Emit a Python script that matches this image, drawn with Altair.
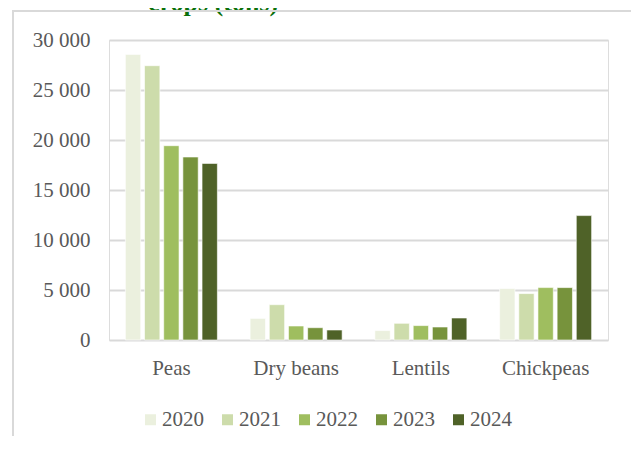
import altair as alt
import pandas as pd

categories = ["Peas", "Dry beans", "Lentils", "Chickpeas"]
years = ["2020", "2021", "2022", "2023", "2024"]
v2020 = [28560, 2160, 940, 5140]
v2021 = [27430, 3530, 1670, 4640]
v2022 = [19430, 1400, 1440, 5240]
v2023 = [18300, 1230, 1300, 5240]
v2024 = [17660, 1000, 2200, 12440]
colors = ["#EBF0DE", "#CDDCAB", "#9FBE5F", "#77933C", "#4F6228"]
y_ticks = [0, 5000, 10000, 15000, 20000, 25000, 30000]
title_text = "crops (tons)"

series = [v2020, v2021, v2022, v2023, v2024]
rows = []
for yr, vals in zip(years, series):
    for c, v in zip(categories, vals):
        rows.append({"Crop": c, "Year": yr, "Tons": v})
df = pd.DataFrame(rows)

FONT = "Liberation Serif"
GREY = "#595959"

bars = alt.Chart(df).mark_bar(stroke="white", strokeWidth=0.6).encode(
    x=alt.X("Crop:N", sort=categories,
            scale=alt.Scale(paddingInner=0.2625, paddingOuter=0.13125),
            axis=alt.Axis(title=None, labelAngle=0, domain=False, ticks=False,
                          tickSize=0, labelPadding=17, labelFont=FONT,
                          labelFontSize=21, labelColor=GREY, grid=False)),
    xOffset=alt.XOffset("Year:N", sort=years,
                        scale=alt.Scale(paddingInner=0.2, paddingOuter=0)),
    y=alt.Y("Tons:Q", scale=alt.Scale(domain=[0, 30000], nice=False),
            axis=alt.Axis(title=None, values=y_ticks, domain=False, ticks=False,
                          tickSize=0, labelPadding=19, labelFont=FONT,
                          labelFontSize=21, labelColor=GREY,
                          gridColor="#D9D9D9", gridWidth=2,
                          labelExpr="replace(format(datum.value, ',d'), ',', ' ')")),
    color=alt.Color("Year:N", sort=years,
                    scale=alt.Scale(domain=years, range=colors),
                    legend=alt.Legend(title=None, orient="none", legendX=31,
                                      legendY=369, direction="horizontal",
                                      columns=5, symbolType="square",
                                      symbolSize=121, symbolStrokeWidth=0,
                                      labelFont=FONT, labelFontSize=21,
                                      labelColor=GREY, labelOffset=1,
                                      columnPadding=13, padding=0)),
)

one = pd.DataFrame({"t": [title_text]})
frame = alt.Chart(one).mark_rect(fill="transparent", stroke="#D9D9D9",
                                 strokeWidth=2).encode(
    x=alt.value(-96), x2=alt.value(525), y=alt.value(-29), y2=alt.value(440))

title = alt.Chart(one).mark_text(font=FONT, fontSize=26, fontWeight="bold",
                                 color="#0A700A", align="center",
                                 baseline="alphabetic").encode(
    text="t:N", x=alt.value(104), y=alt.value(-29))

chart = alt.layer(title, frame, bars).properties(
    width=499, height=300,
    padding={"left": 101, "top": 32, "right": 23, "bottom": 96},
    autosize=alt.AutoSizeParams(type="none"),
).configure_view(stroke=None).configure(background="white")

chart.save("out.html", embed_options={"renderer": "svg", "actions": False})
